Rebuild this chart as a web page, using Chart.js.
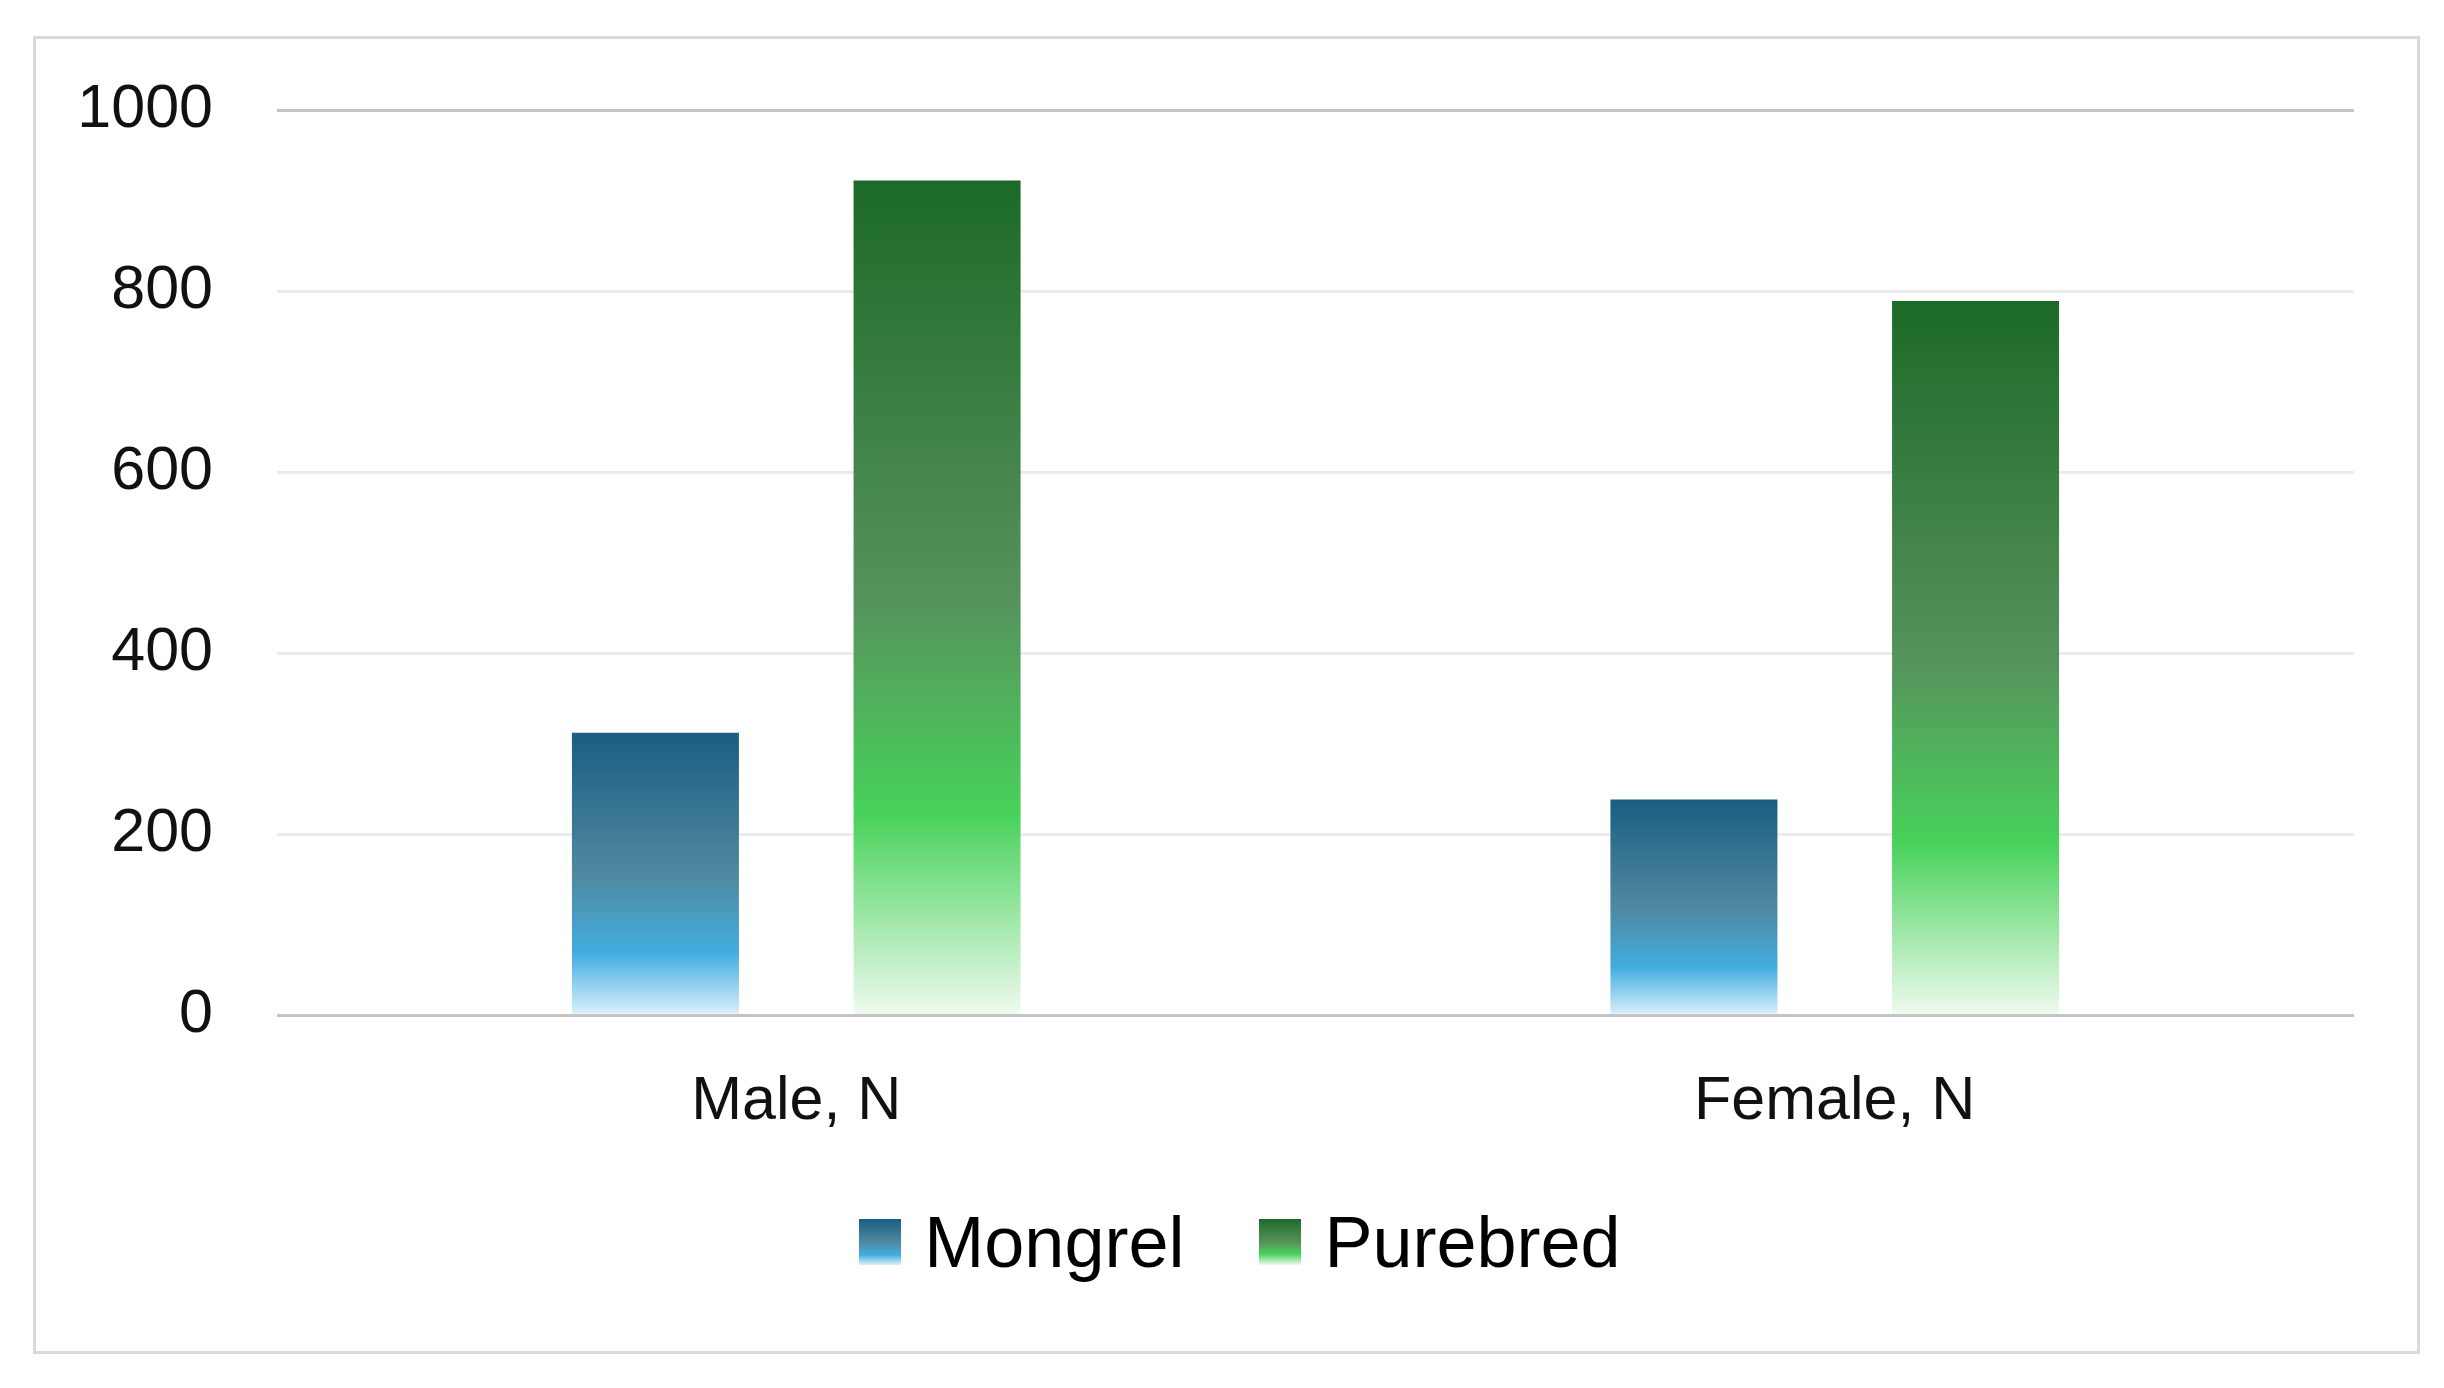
<!DOCTYPE html>
<html>
<head>
<meta charset="utf-8">
<script src="https://cdn.jsdelivr.net/npm/chart.js@4"></script>
<style>
  html, body { margin: 0; padding: 0; background: #fff; }
  #wrap { position: relative; width: 2444px; height: 1388px; }
  #frame {
    position: absolute; left: 33px; top: 36px; width: 2381px; height: 1312px;
    border: 3px solid #d9d9d9; pointer-events: none;
  }
  canvas { position: absolute; left: 0; top: 0; }
  #chart-legend {
    position: absolute; left: 0; top: 1202px; width: 2408px; height: 80px;
    padding-left: 36px;
    font-family: 'Liberation Sans', Arial, sans-serif; font-size: 72px; color: #000;
  }
</style>
</head>
<body>
<div id="wrap">
  <canvas id="chart" width="2444" height="1388"></canvas>
  <div id="frame"></div>
  <div id="chart-legend"></div>
</div>
<script>
const categories = ["Male, N", "Female, N"];
const mongrel = [312, 238];
const purebred = [922, 789];
const yTicks = [0, 200, 400, 600, 800, 1000];

const mongrelStops = [[0, "#1a5e82"], [0.5, "#5088a0"], [0.78, "#42ade0"], [1, "#dcf1fb"]];
const purebredStops = [[0, "#1c6a27"], [0.5, "#56925c"], [0.76, "#48d25a"], [1, "#effaef"]];

const tickFont = { family: "'Liberation Sans', Arial, sans-serif", size: 61 };

function barGradient(context, stops) {
    const chart = context.chart;
    if (!chart.chartArea) return stops[0][1];
    const y = chart.scales.y;
    const top = y.getPixelForValue(context.raw);
    const bottom = y.getPixelForValue(0);
    const g = chart.ctx.createLinearGradient(0, top, 0, bottom);
    stops.forEach(([o, c]) => g.addColorStop(o, c));
    return g;
}

function cssGradient(stops) {
    return "linear-gradient(to bottom, " + stops.map(([o, c]) => `${c} ${o * 100}%`).join(", ") + ")";
}

// legend drawn as html so it can sit centred on the frame, not the plot
const htmlLegendPlugin = {
    id: "htmlLegend",
    afterUpdate(chart, args, options) {
        const box = document.getElementById(options.containerID);
        while (box.firstChild) {
            box.firstChild.remove();
        }
        const ul = document.createElement("ul");
        ul.style.margin = 0;
        ul.style.padding = 0;
        ul.style.listStyle = "none";
        ul.style.display = "flex";
        ul.style.justifyContent = "center";
        ul.style.alignItems = "center";
        ul.style.height = "100%";

        chart.data.datasets.forEach((ds, i) => {
            const li = document.createElement("li");
            li.style.display = "flex";
            li.style.alignItems = "center";
            if (i > 0) li.style.marginLeft = "75px";

            const swatch = document.createElement("span");
            swatch.style.display = "inline-block";
            swatch.style.width = "42px";
            swatch.style.height = "46px";
            swatch.style.marginRight = "23px";
            swatch.style.background = cssGradient(ds.legendStops);

            const text = document.createElement("span");
            text.textContent = ds.label;
            text.style.lineHeight = "80px";

            li.appendChild(swatch);
            li.appendChild(text);
            ul.appendChild(li);
        });
        box.appendChild(ul);
    },
};

const ctx = document.getElementById("chart").getContext("2d");
new Chart(ctx, {
    type: "bar",
    data: {
        labels: categories,
        datasets: [
            {
                label: "Mongrel",
                data: mongrel,
                legendStops: mongrelStops,
                backgroundColor: (c) => barGradient(c, mongrelStops),
                borderWidth: 0,
            },
            {
                label: "Purebred",
                data: purebred,
                legendStops: purebredStops,
                backgroundColor: (c) => barGradient(c, purebredStops),
                borderWidth: 0,
            },
        ],
    },
    options: {
        responsive: false,
        animation: false,
        datasets: {
            bar: {
                categoryPercentage: 0.5424,
                barPercentage: 0.593,
            },
        },
        layout: {
            padding: { left: 0, right: 90, top: 110, bottom: 248 },
        },
        scales: {
            x: {
                grid: { display: false, drawTicks: false },
                border: { display: false },
                ticks: {
                    padding: 51,
                    color: "#111",
                    font: tickFont,
                },
                afterFit: (scale) => { scale.height = 125; },
            },
            y: {
                min: 0,
                max: 1000,
                afterBuildTicks: (scale) => {
                    scale.ticks = yTicks.map((v) => ({ value: v }));
                },
                grid: {
                    drawTicks: false,
                    color: (c) => (c.tick.value === 0 || c.tick.value === 1000 ? "#c4c4c4" : "#ebebeb"),
                    lineWidth: 3,
                },
                border: { display: false },
                ticks: {
                    padding: 64,
                    color: "#111",
                    font: tickFont,
                    callback: (v) => String(v),
                },
                afterFit: (scale) => { scale.width = 277; },
            },
        },
        plugins: {
            htmlLegend: { containerID: "chart-legend" },
            legend: { display: false },
            tooltip: { enabled: false },
        },
    },
    plugins: [htmlLegendPlugin],
});
</script>
</body>
</html>
